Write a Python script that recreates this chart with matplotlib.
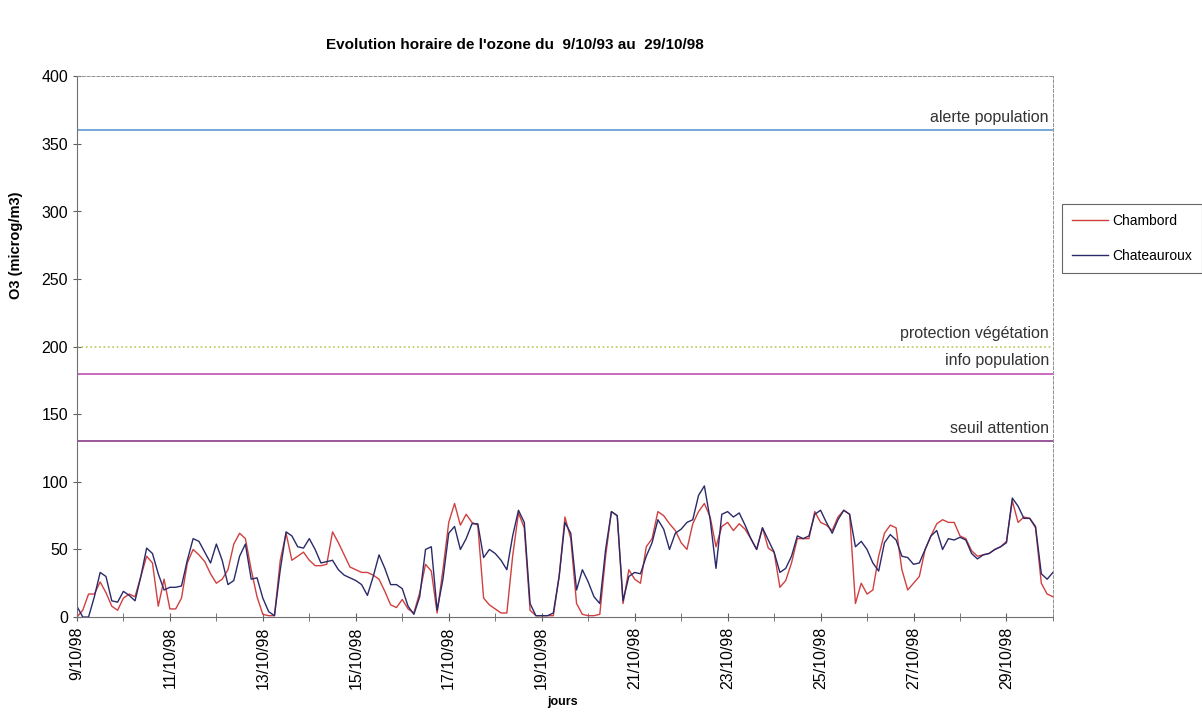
import numpy as np
import matplotlib
matplotlib.use("Agg")
import matplotlib.pyplot as plt

plt.rcParams['font.family'] = ['Liberation Sans', 'DejaVu Sans']

# Hourly ozone, read every 3 hours from 9/10/98 00h to 30/10/98 00h
chambord = [
    0, 5, 17, 17, 26, 18, 8, 5,
    14, 17, 15, 30, 45, 40, 8, 28,
    6, 6, 14, 40, 50, 46, 41, 32,
    25, 28, 35, 54, 62, 58, 35, 15,
    2, 1, 1, 42, 62, 42, 45, 48,
    42, 38, 38, 39, 63, 55, 46, 37,
    35, 33, 33, 31, 28, 19, 9, 7,
    13, 6, 3, 18, 39, 34, 3, 35,
    70, 84, 68, 76, 70, 68, 14, 9,
    6, 3, 3, 45, 77, 66, 5, 1,
    1, 1, 1, 30, 74, 58, 10, 2,
    1, 1, 2, 45, 78, 75, 10, 35,
    28, 25, 52, 58, 78, 75, 69, 64,
    55, 50, 69, 78, 84, 74, 52, 67,
    70, 64, 69, 65, 58, 50, 66, 51,
    48, 22, 27, 40, 58, 58, 58, 78,
    70, 68, 64, 74, 79, 76, 10, 25,
    17, 20, 45, 62, 68, 66, 35, 20,
    25, 30, 50, 60, 69, 72, 70, 70,
    60, 58, 49, 45, 46, 47, 50, 52,
    56, 86, 70, 74, 73, 66, 25, 17, 15,
]
chateauroux = [
    8, 0, 0, 15, 33, 30, 12, 11,
    19, 16, 12, 30, 51, 47, 32, 20,
    22, 22, 23, 42, 58, 56, 48, 40,
    54, 42, 24, 27, 45, 54, 28, 29,
    14, 4, 1, 35, 63, 60, 52, 51,
    58, 50, 40, 41, 42, 35, 31, 29,
    27, 24, 16, 30, 46, 36, 24, 24,
    21, 8, 2, 15, 50, 52, 5, 28,
    62, 67, 50, 58, 69, 69, 44, 50,
    47, 42, 35, 60, 79, 70, 10, 1,
    1, 1, 3, 30, 70, 62, 20, 35,
    26, 15, 10, 50, 78, 75, 12, 30,
    33, 32, 45, 55, 72, 65, 50, 62,
    65, 70, 72, 90, 97, 72, 36, 76,
    78, 74, 77, 68, 58, 50, 66, 57,
    48, 33, 36, 45, 60, 58, 60, 76,
    79, 70, 62, 72, 79, 76, 52, 56,
    50, 40, 34, 55, 61, 57, 45, 44,
    39, 40, 50, 60, 64, 50, 58, 57,
    59, 57, 47, 43, 46, 47, 50, 52,
    55, 88, 82, 73, 73, 67, 32, 28, 33,
]

# Regulatory thresholds
seuils = [360, 200, 180, 130]
seuil_labels = ['alerte population', 'protection végétation', 'info population', 'seuil attention']
seuil_colors = ['#5b9bd5', '#b8c85a', '#c050b0', '#8a3a8a']
seuil_styles = ['-', ':', '-', '-']

tick_days = [9, 11, 13, 15, 17, 19, 21, 23, 25, 27, 29]
tick_labels = ['%d/10/98' % d for d in tick_days]

t = np.arange(len(chambord)) * 3 / 24.0

fig = plt.figure(figsize=(12.02, 7.2), dpi=100)
ax = fig.add_axes([0.064, 0.143, 0.812, 0.751])

for val, lab, col, ls in zip(seuils, seuil_labels, seuil_colors, seuil_styles):
    ax.axhline(val, color=col, lw=1.2, ls=ls)
    ax.annotate(lab, xy=(1, val), xycoords=('axes fraction', 'data'),
                xytext=(-3, 4), textcoords='offset points',
                ha='right', va='bottom', fontsize=11.5, color='#333333')

ax.plot(t, chambord, color='#d04040', lw=1.0, label='Chambord')
ax.plot(t, chateauroux, color='#2a2a6a', lw=1.0, label='Chateauroux')

ax.set_xlim(0, 21)
ax.set_ylim(0, 400)
ax.set_yticks(np.arange(0, 401, 50))
ax.set_xticks([d - 9 for d in tick_days])
ax.set_xticklabels(tick_labels, rotation=90)
ax.set_xticks(np.arange(0, 22), minor=True)
ax.tick_params(axis='x', which='both', direction='inout', length=6, color='#606060',
               labelsize=11.5, pad=4)
ax.tick_params(axis='y', direction='inout', length=6, color='#606060', labelsize=11.5)

for side in ['left', 'bottom']:
    ax.spines[side].set_color('#707070')
for side in ['top', 'right']:
    ax.spines[side].set_color('#909090')
    ax.spines[side].set_linestyle((0, (3, 2)))
    ax.spines[side].set_linewidth(0.7)

ax.set_xlabel('jours', fontsize=9, fontweight='bold', va='center')
ax.xaxis.set_label_coords(0.498, -0.157)
ax.set_ylabel('O3 (microg/m3)', fontsize=10.5, fontweight='bold')
ax.yaxis.set_label_coords(-0.055, 0.688)

fig.suptitle("Evolution horaire de l'ozone du  9/10/93 au  29/10/98",
             x=0.428, y=0.937, va='center', fontsize=11, fontweight='bold')

leg = fig.legend(loc='upper left', bbox_to_anchor=(0.8835, 0.716), fontsize=10,
                 frameon=True, fancybox=False, edgecolor='#404040',
                 handlelength=2.6, handletextpad=0.3, borderpad=0.7,
                 borderaxespad=0, labelspacing=1.5)
leg.get_frame().set_linewidth(0.8)

fig.savefig('out.png', dpi=100)
